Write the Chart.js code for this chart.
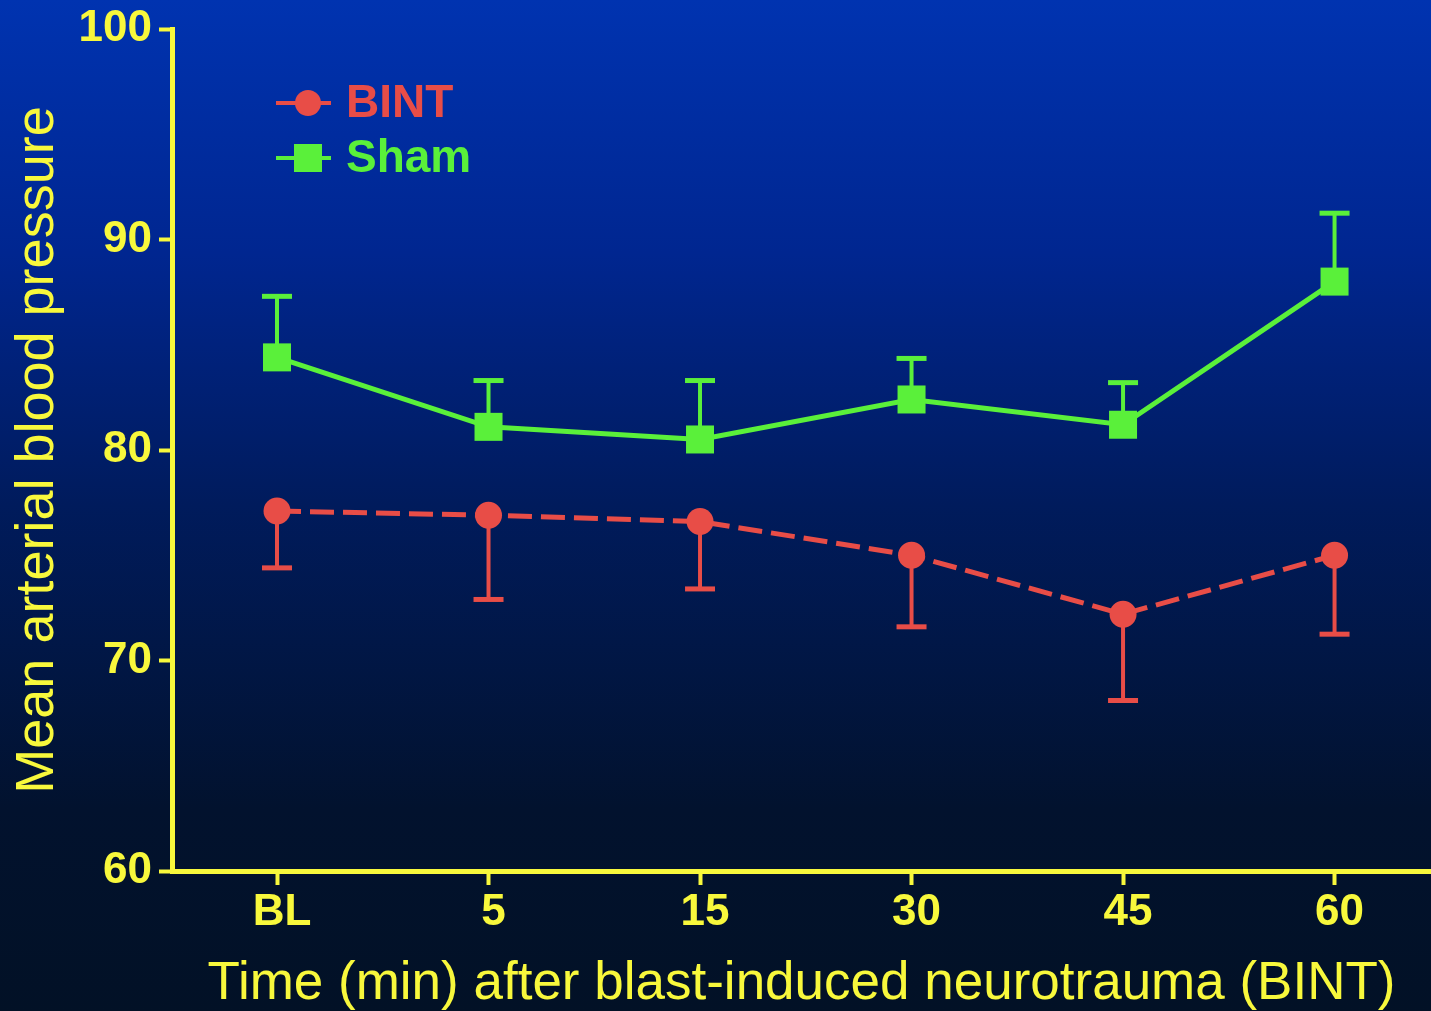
<!DOCTYPE html>
<html>
<head>
<meta charset="utf-8">
<script src="https://cdn.jsdelivr.net/npm/chart.js@4"></script>
<style>
  body { margin: 0; background: #021126; }
  canvas { display: block; }
</style>
</head>
<body>
<canvas id="myChart" width="1431" height="1011"></canvas>
<script>
// values
var categories = ["BL", "5", "15", "30", "45", "60"];
var yTicks = [60, 70, 80, 90, 100];

var bintMean = [77.1, 76.9, 76.6, 75.0, 72.2, 75.0];
var bintSem = [2.7, 4.0, 3.2, 3.4, 4.1, 3.75];

var shamMean = [84.4, 81.1, 80.5, 82.4, 81.2, 88.0];
var shamSem = [2.9, 2.2, 2.8, 1.95, 2.0, 3.25];

var yellow = "#f8f83c";
var red = "#e84d47";
var green = "#5af03a";

function points(arr) {
  return arr.map(function (v, i) {
    return { x: i, y: v };
  });
}

// gradient backdrop
var backdrop = {
  id: "backdrop",
  beforeDraw: function (chart) {
    var ctx = chart.ctx;
    var g = ctx.createLinearGradient(0, 0, 0, chart.height);
    g.addColorStop(0, "#0033b0");
    g.addColorStop(0.25, "#002690");
    g.addColorStop(0.5, "#001b5c");
    g.addColorStop(0.8, "#02122e");
    g.addColorStop(1, "#021126");
    ctx.save();
    ctx.fillStyle = g;
    ctx.fillRect(0, 0, chart.width, chart.height);
    ctx.restore();
  },
};

// one-sided SEM bars
var errorBars = {
  id: "errorBars",
  beforeDatasetsDraw: function (chart) {
    var ctx = chart.ctx;
    var x = chart.scales.x;
    var y = chart.scales.y;
    chart.data.datasets.forEach(function (ds) {
      ctx.save();
      ctx.strokeStyle = ds.borderColor;
      ds.data.forEach(function (p, i) {
        var px = x.getPixelForValue(p.x);
        var py = y.getPixelForValue(p.y);
        var pe = y.getPixelForValue(p.y + ds.errDir * ds.sem[i]);
        ctx.lineWidth = 4;
        ctx.beginPath();
        ctx.moveTo(px, py);
        ctx.lineTo(px, pe);
        ctx.stroke();
        ctx.lineWidth = 5;
        ctx.beginPath();
        ctx.moveTo(px - 15, pe);
        ctx.lineTo(px + 15, pe);
        ctx.stroke();
      });
      ctx.restore();
    });
  },
};

// legend in the top-left corner of the plot
var cornerLegend = {
  id: "cornerLegend",
  afterDraw: function (chart) {
    var ctx = chart.ctx;
    var rows = [
      { ds: chart.data.datasets[1], y: 103 },
      { ds: chart.data.datasets[0], y: 158 },
    ];
    ctx.save();
    rows.forEach(function (r) {
      var c = r.ds.borderColor;
      ctx.strokeStyle = c;
      ctx.fillStyle = c;
      ctx.lineWidth = 4;
      ctx.beginPath();
      ctx.moveTo(276, r.y);
      ctx.lineTo(331, r.y);
      ctx.stroke();
      if (r.ds.pointStyle === "rect") {
        ctx.fillRect(294, r.y - 14, 28, 28);
      } else {
        ctx.beginPath();
        ctx.arc(308, r.y, 13, 0, Math.PI * 2);
        ctx.fill();
      }
      ctx.font = "bold 46px 'Liberation Sans', Arial, sans-serif";
      ctx.textBaseline = "middle";
      ctx.fillText(r.ds.label, 346, r.y + 1);
    });
    ctx.restore();
  },
};

var ctx = document.getElementById("myChart").getContext("2d");
var myChart = new Chart(ctx, {
  type: "line",
  data: {
    datasets: [
      {
        label: "Sham",
        data: points(shamMean),
        sem: shamSem,
        errDir: 1,
        borderColor: green,
        backgroundColor: green,
        borderWidth: 5,
        pointStyle: "rect",
        pointRadius: 19.8,
        pointBorderWidth: 0,
        fill: false,
      },
      {
        label: "BINT",
        data: points(bintMean),
        sem: bintSem,
        errDir: -1,
        borderColor: red,
        backgroundColor: red,
        borderWidth: 5,
        borderDash: [24, 9],
        pointStyle: "circle",
        pointRadius: 13.5,
        pointBorderWidth: 0,
        fill: false,
      },
    ],
  },
  options: {
    responsive: false,
    animation: false,
    layout: { autoPadding: false, padding: { top: 25, right: 0, left: 0, bottom: 0 } },
    plugins: {
      legend: { display: false },
      tooltip: { enabled: false },
    },
    scales: {
      x: {
        type: "linear",
        min: -0.4965,
        max: 5.456,
        afterBuildTicks: function (s) {
          s.ticks = categories.map(function (c, i) {
            return { value: i };
          });
        },
        afterFit: function (s) {
          s.height = 140;
          s.paddingLeft = 0;
          s.paddingRight = 0;
        },
        ticks: {
          callback: function (v) {
            return categories[v];
          },
          color: yellow,
          font: { family: "'Liberation Sans', Arial, sans-serif", size: 44, weight: "bold", lineHeight: 1 },
          padding: 6,
          labelOffset: 5,
          autoSkip: false,
          maxRotation: 0,
        },
        grid: {
          drawOnChartArea: false,
          tickLength: 14,
          tickWidth: 4,
          tickColor: yellow,
        },
        border: { color: yellow, width: 5 },
        title: {
          display: true,
          text: "Time (min) after blast-induced neurotrauma (BINT)",
          color: yellow,
          font: { family: "'Liberation Sans', Arial, sans-serif", size: 53, lineHeight: 1 },
          padding: { top: 1, bottom: 0 },
        },
      },
      y: {
        min: 60,
        max: 100,
        afterBuildTicks: function (s) {
          s.ticks = yTicks.map(function (v) {
            return { value: v };
          });
        },
        afterFit: function (s) {
          s.width = 172;
        },
        ticks: {
          color: yellow,
          font: { family: "'Liberation Sans', Arial, sans-serif", size: 44, weight: "bold", lineHeight: 1 },
          padding: 7,
        },
        grid: {
          drawOnChartArea: false,
          tickLength: 13,
          tickWidth: 4,
          tickColor: yellow,
        },
        border: { color: yellow, width: 5 },
        title: {
          display: true,
          text: "Mean arterial blood pressure",
          color: yellow,
          font: { family: "'Liberation Sans', Arial, sans-serif", size: 54, lineHeight: 1 },
          padding: { top: 11, bottom: 0 },
        },
      },
    },
  },
  plugins: [backdrop, errorBars, cornerLegend],
});
</script>
</body>
</html>
